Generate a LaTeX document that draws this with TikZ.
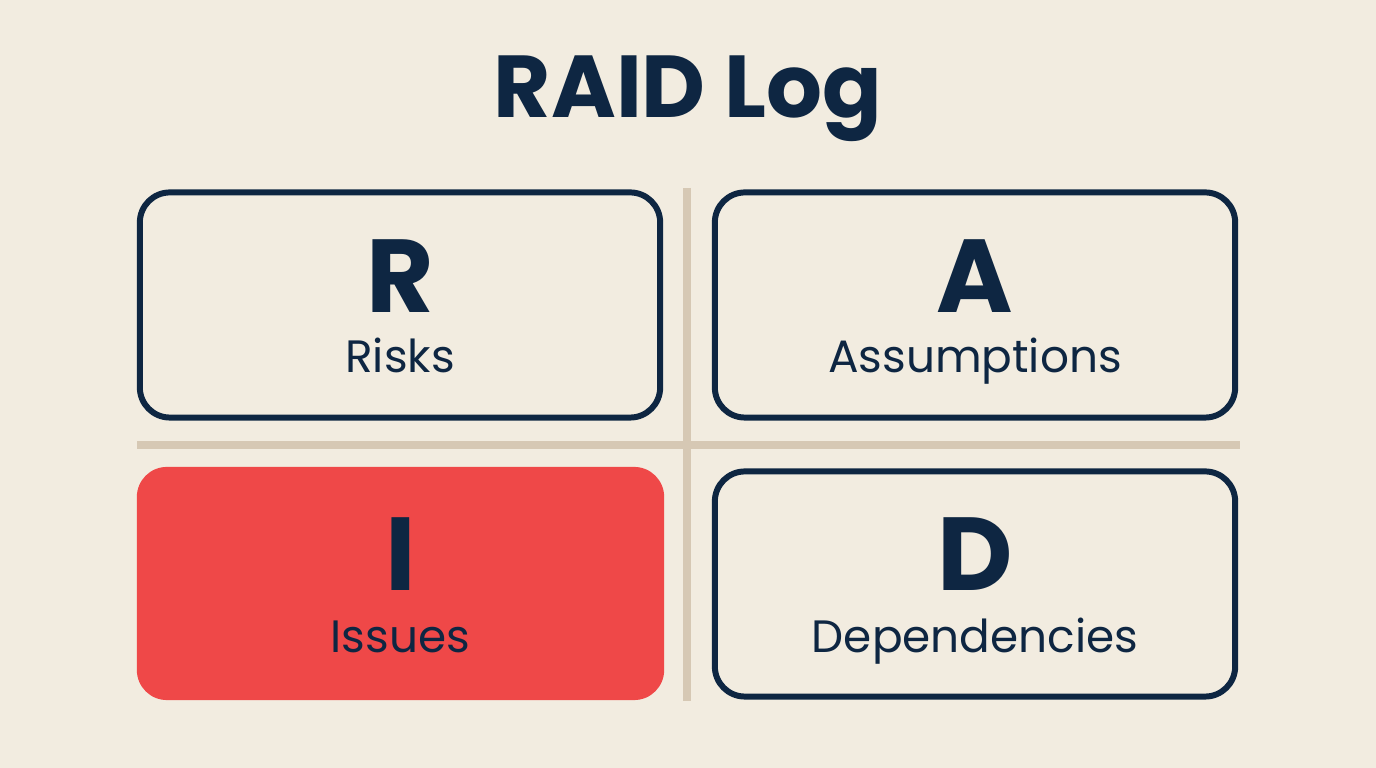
\documentclass[tikz,border=0pt]{standalone}
\usepackage{fontspec}
\setmainfont{Poppins}
\usetikzlibrary{positioning}
\definecolor{cream}{RGB}{242,236,224}
\definecolor{navy}{RGB}{14,38,66}
\definecolor{tanline}{RGB}{214,200,180}
\definecolor{issuered}{RGB}{239,72,72}
\tikzset{
  quadbox/.style={
    draw=navy, line width=1.7pt, rounded corners=0.3cm,
    minimum width=5.2cm, minimum height=2.25cm
  },
  hotbox/.style={
    fill=issuered, rounded corners=0.3cm,
    minimum width=5.27cm, minimum height=2.33cm
  },
  bigletter/.style={
    font=\fontsize{29.5}{32}\selectfont\bfseries, text=navy,
    anchor=base, inner sep=0pt
  },
  quadlabel/.style={
    font=\fontsize{12.9}{15}\selectfont, text=navy,
    anchor=base, inner sep=0pt
  },
  divider/.style={
    draw=tanline, line width=0.08cm
  },
  diagramtitle/.style={
    font=\fontsize{25}{28}\selectfont\bfseries, text=navy,
    anchor=base
  },
}
\begin{document}
\begin{tikzpicture}[x=0.01cm,y=-0.01cm]

  \fill[cream] (0,0) rectangle (1376,768);
  \useasboundingbox (0,0) rectangle (1376,768);

  \node[diagramtitle] (T) at (688,118) {RAID Log};

  %% Dividers
  \draw[divider] (687,188) -- (687,701);
  \draw[divider] (137,445) -- (1240,445);

  %% Quadrants
  \node[quadbox, fill=cream] (risk) at (400,305) {};
  \node[quadbox, fill=cream] (assume) at (975,305) {};
  \node[hotbox] (issue) at (400.5,583.5) {};
  \node[quadbox, fill=cream] (dep) at (975,584) {};

  %% Letters and labels
  \node[bigletter] (rl) at ([yshift=-0.08cm]risk.center) {R};
  \node[quadlabel] at ([yshift=-0.59cm]rl.base) {Risks};
  \node[bigletter] (al) at ([yshift=-0.08cm]assume.center) {A};
  \node[quadlabel] at ([yshift=-0.59cm]al.base) {Assumptions};
  \node[bigletter] (il) at ([yshift=-0.075cm]issue.center) {I};
  \node[quadlabel] at ([yshift=-0.61cm]il.base) {Issues};
  \node[bigletter] (dl) at ([yshift=-0.07cm]dep.center) {D};
  \node[quadlabel] at ([yshift=-0.61cm]dl.base) {Dependencies};

\end{tikzpicture}
\end{document}
